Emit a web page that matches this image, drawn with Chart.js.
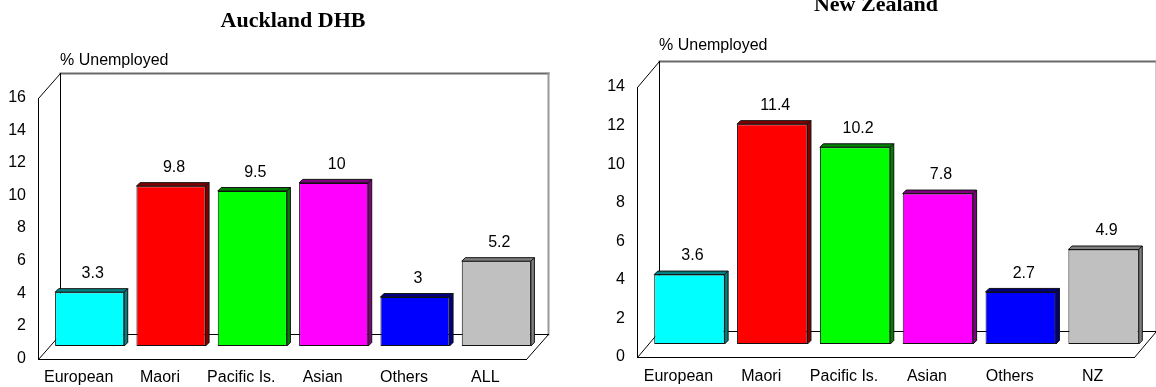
<!DOCTYPE html>
<html>
<head>
<meta charset="utf-8">
<script src="https://cdn.jsdelivr.net/npm/chart.js@4.4.1/dist/chart.umd.min.js"></script>
<style>
  html, body { margin: 0; padding: 0; background: #fff; overflow: hidden; }
  #wrap { position: relative; width: 1156px; height: 387px; }
  canvas { position: absolute; top: 0; }
  #auckland { left: 0; }
  #nz { left: 578px; }
</style>
</head>
<body>
<div id="wrap">
  <canvas id="auckland" width="578" height="387"></canvas>
  <canvas id="nz" width="578" height="387"></canvas>
</div>
<script>
// Unemployment rate by ethnic group
const aucklandGroups = ['European', 'Maori', 'Pacific Is.', 'Asian', 'Others', 'ALL'];
const aucklandRates  = [3.3, 9.8, 9.5, 10, 3, 5.2];
const aucklandAxisMax = 16;

const nzGroups = ['European', 'Maori', 'Pacific Is.', 'Asian', 'Others', 'NZ'];
const nzRates  = [3.6, 11.4, 10.2, 7.8, 2.7, 4.9];
const nzAxisMax = 14;

const tickStep = 2;
const unitLabel = '% Unemployed';

// front face colours and the darker shade used for the top and side faces
const faceColours  = ['#00FFFF', '#FF0000', '#00FF00', '#FF00FF', '#0000FF', '#C0C0C0'];
const shadeColours = ['#008080', '#800000', '#008000', '#800080', '#000080', '#808080'];

const SANS = "'Liberation Sans', Arial, sans-serif";
const SERIF = "'Liberation Serif', 'Times New Roman', serif";

// Draws the 3-D box (walls + floor) behind the bars, the bar depth faces and value labels.
const box3d = {
  id: 'box3d',
  beforeDatasetsDraw(chart, args, opts) {
    const ctx = chart.ctx;
    const xs = chart.scales.x, ys = chart.scales.y;
    const hx = opts.hx, hy = opts.hy;
    const L = xs.left, R = xs.right;
    const B = ys.getPixelForValue(ys.min), T = ys.getPixelForValue(ys.max);
    const fr = (px, py) => [Math.round(px - hx) + 0.5, Math.round(py - hy) + 0.5];
    const bk = (px, py) => [Math.round(px + hx) + 0.5, Math.round(py + hy) + 0.5];
    const line = (a, b, colour, w) => {
      ctx.beginPath();
      ctx.moveTo(a[0], a[1]);
      ctx.lineTo(b[0], b[1]);
      ctx.strokeStyle = colour;
      ctx.lineWidth = w;
      ctx.stroke();
    };
    ctx.save();
    ctx.lineCap = 'square';
    // back wall
    line(bk(L, T), bk(R, T), '#6a6a6a', 2);
    line(bk(R, T), bk(R, B), '#9a9a9a', 2);
    line(bk(L, T), bk(L, B), '#000', 1);
    line(bk(L, B), bk(R, B), '#000', 1);
    // side wall and floor edges
    line(fr(L, T), bk(L, T), '#000', 1);
    line(fr(L, T), fr(L, B), '#000', 1);
    line(fr(L, B), bk(L, B), '#000', 1);
    line(fr(L, B), fr(R, B), '#000', 1);
    line(fr(R, B), bk(R, B), '#000', 1);
    // axis caption above the back wall
    const cap = bk(L, T);
    ctx.fillStyle = '#000';
    ctx.font = '16px ' + SANS;
    ctx.textAlign = 'left';
    ctx.textBaseline = 'alphabetic';
    ctx.fillText(opts.caption, cap[0] - 0.5, cap[1] - opts.captionGap);
    ctx.restore();
  },
  afterDatasetsDraw(chart, args, opts) {
    const ctx = chart.ctx;
    const meta = chart.getDatasetMeta(0);
    const values = chart.data.datasets[0].data;
    const dx = opts.depth, dy = -opts.depth;
    ctx.save();
    meta.data.forEach((bar, i) => {
      const p = bar.getProps(['x', 'y', 'base', 'width'], true);
      const l = p.x - p.width / 2, r = p.x + p.width / 2;
      const t = p.y, b = p.base;
      ctx.fillStyle = shadeColours[i % shadeColours.length];
      ctx.strokeStyle = '#111';
      ctx.lineWidth = 1;
      // top face
      ctx.beginPath();
      ctx.moveTo(l, t);
      ctx.lineTo(l + dx, t + dy);
      ctx.lineTo(r + dx, t + dy);
      ctx.lineTo(r, t);
      ctx.closePath();
      ctx.fill();
      ctx.stroke();
      // side face
      ctx.beginPath();
      ctx.moveTo(r, t);
      ctx.lineTo(r + dx, t + dy);
      ctx.lineTo(r + dx, b + dy);
      ctx.lineTo(r, b);
      ctx.closePath();
      ctx.fill();
      ctx.stroke();
      // value label
      ctx.fillStyle = '#000';
      ctx.font = '16px ' + SANS;
      ctx.textAlign = 'center';
      ctx.textBaseline = 'middle';
      ctx.fillText(String(values[i]), p.x + opts.labelDx, t - opts.labelLift);
    });
    ctx.restore();
  }
};

function makeChart(id, cfg) {
  return new Chart(document.getElementById(id), {
    type: 'bar',
    data: {
      labels: cfg.groups,
      datasets: [{
        data: cfg.rates,
        backgroundColor: faceColours,
        borderColor: '#111',
        borderWidth: 1,
        borderSkipped: false,
        barPercentage: 0.85,
        categoryPercentage: 1
      }]
    },
    options: {
      responsive: false,
      animation: false,
      devicePixelRatio: 1,
      layout: { padding: { left: cfg.padLeft, right: cfg.padRight, top: 0, bottom: 0 } },
      plugins: {
        legend: { display: false },
        tooltip: { enabled: false },
        title: {
          display: true,
          text: cfg.title,
          color: '#000',
          fullSize: cfg.titleFull,
          font: { family: SERIF, size: 22, weight: 'bold', lineHeight: 1.2 },
          padding: { top: cfg.titleTop, bottom: cfg.titleBottom }
        },
        box3d: {
          hx: cfg.hx, hy: cfg.hy, depth: 3.5,
          caption: unitLabel, captionGap: cfg.captionGap,
          labelDx: 3, labelLift: 18.5
        }
      },
      scales: {
        x: {
          grid: { display: false, drawTicks: false },
          border: { display: false },
          ticks: {
            color: '#000', font: { family: SANS, size: 16 },
            padding: cfg.xPad, labelOffset: -cfg.hx,
            autoSkip: false, maxRotation: 0
          },
          afterFit: s => { s.height = cfg.xHeight; }
        },
        y: {
          min: 0, max: cfg.axisMax,
          grid: { display: false, drawTicks: false },
          border: { display: false },
          ticks: {
            stepSize: tickStep, color: '#000', font: { family: SANS, size: 16 },
            padding: 23, labelOffset: -cfg.hy
          },
          afterFit: s => { s.width = cfg.yWidth; }
        }
      }
    },
    plugins: [box3d]
  });
}

makeChart('auckland', {
  groups: aucklandGroups, rates: aucklandRates, axisMax: aucklandAxisMax,
  title: 'Auckland DHB', titleFull: false,
  padLeft: 0, yWidth: 49, padRight: 41,
  titleTop: 7.8, titleBottom: 50.8,
  xHeight: 41, xPad: 22,
  hx: 11, hy: -12.5, captionGap: 9
});

makeChart('nz', {
  groups: nzGroups, rates: nzRates, axisMax: nzAxisMax,
  title: 'New Zealand', titleFull: true,
  padLeft: 29, yWidth: 41, padRight: 11,
  titleTop: -8.2, titleBottom: 55.8,
  xHeight: 43, xPad: 23,
  hx: 11, hy: -13, captionGap: 12
});
</script>
</body>
</html>
